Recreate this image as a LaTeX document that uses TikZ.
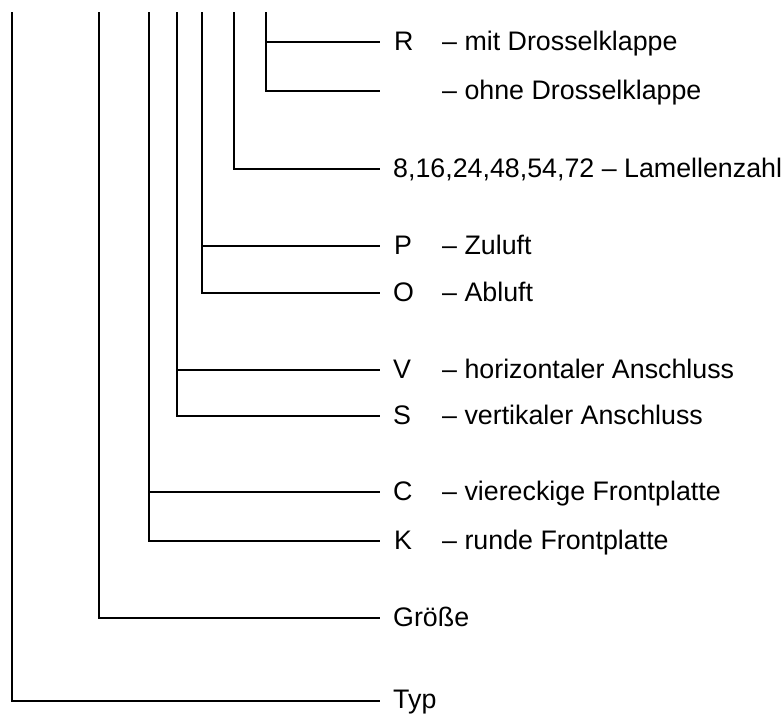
\documentclass[tikz,border=0pt]{standalone}
\usepackage{fontspec}
\setmainfont{Liberation Sans}
\begin{document}
\begin{tikzpicture}[x=1pt,y=-1pt,
  tree/.style={line width=2.7pt,line cap=rect,line join=miter},
  lbl/.style={anchor=base west,inner sep=0pt,font=\fontsize{26.8}{30}\selectfont}]
\useasboundingbox (0,0) rectangle (782,714);
% vertical tops
\coordinate (t1) at (12,13);
\coordinate (t2) at (99,13);
\coordinate (t3) at (149,13);
\coordinate (t4) at (177,13);
\coordinate (t5) at (202,13);
\coordinate (t6) at (234,13);
\coordinate (t7) at (266,13);
% branch ends
\coordinate (eR) at (379,42);
\coordinate (eOhne) at (379,91);
\coordinate (eL) at (379,169);
\coordinate (eP) at (379,246);
\coordinate (eO) at (379,293);
\coordinate (eV) at (379,370);
\coordinate (eS) at (379,416);
\coordinate (eC) at (379,492);
\coordinate (eK) at (379,541);
\coordinate (eG) at (379,618);
\coordinate (eT) at (379,701);
% connectors
\draw[tree] (t7) |- (eOhne);
\draw[tree] (t7 |- eR) -- (eR);
\draw[tree] (t6) |- (eL);
\draw[tree] (t5) |- (eO);
\draw[tree] (t5 |- eP) -- (eP);
\draw[tree] (t4) |- (eS);
\draw[tree] (t4 |- eV) -- (eV);
\draw[tree] (t3) |- (eK);
\draw[tree] (t3 |- eC) -- (eC);
\draw[tree] (t2) |- (eG);
\draw[tree] (t1) |- (eT);
% labels
\def\dy{8.2}
\node[lbl] (lR) at (394,42+\dy) {R};
\node[lbl] (dR) at (442,42+\dy) {– mit Drosselklappe};
\node[lbl] (dOhne) at (442,91+\dy) {– ohne Drosselklappe};
\node[lbl] (lL) at (393,169+\dy) {8,16,24,48,54,72 – Lamellenzahl};
\node[lbl] (lP) at (394,246+\dy) {P};
\node[lbl] (dP) at (442,246+\dy) {– Zuluft};
\node[lbl] (lO) at (393,293+\dy) {O};
\node[lbl] (dO) at (442,293+\dy) {– Abluft};
\node[lbl] (lV) at (393,370+\dy) {V};
\node[lbl] (dV) at (442,370+\dy) {– horizontaler Anschluss};
\node[lbl] (lS) at (393,416+\dy) {S};
\node[lbl] (dS) at (442,416+\dy) {– vertikaler Anschluss};
\node[lbl] (lC) at (393,492+\dy) {C};
\node[lbl] (dC) at (442,492+\dy) {– viereckige Frontplatte};
\node[lbl] (lK) at (394,541+\dy) {K};
\node[lbl] (dK) at (442,541+\dy) {– runde Frontplatte};
\node[lbl] (lG) at (393,618+\dy) {Größe};
\node[lbl] (lT) at (393,701+7.6) {Typ};
\end{tikzpicture}
\end{document}
